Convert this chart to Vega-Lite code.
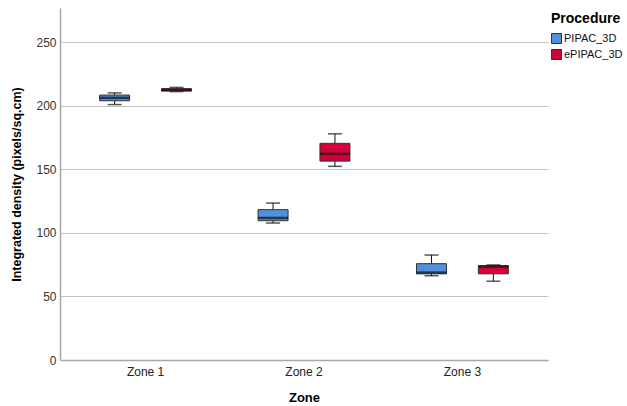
{
  "$schema": "https://vega.github.io/schema/vega-lite/v6.json",
  "autosize": "none",
  "width": 488,
  "height": 352,
  "padding": {"left": 60, "top": 8, "right": 79, "bottom": 46},
  "background": "white",
  "config": {
    "font": "Liberation Sans",
    "view": {"stroke": null}
  },
  "data": {
    "values": [
      {"zone": "Zone 1", "proc": "PIPAC_3D", "min": 201, "q1": 204, "median": 206.3, "q3": 208.5, "max": 210.2},
      {"zone": "Zone 1", "proc": "ePIPAC_3D", "min": 211.2, "q1": 211.6, "median": 212.6, "q3": 213.5, "max": 214.5},
      {"zone": "Zone 2", "proc": "PIPAC_3D", "min": 107.8, "q1": 109.6, "median": 111.8, "q3": 118.3, "max": 123.5},
      {"zone": "Zone 2", "proc": "ePIPAC_3D", "min": 152.4, "q1": 156.5, "median": 162.2, "q3": 170.5, "max": 178},
      {"zone": "Zone 3", "proc": "PIPAC_3D", "min": 66.3, "q1": 67.8, "median": 68.8, "q3": 75.8, "max": 82.6},
      {"zone": "Zone 3", "proc": "ePIPAC_3D", "min": 62, "q1": 67.8, "median": 73.6, "q3": 74.2, "max": 74.8}
    ]
  },
  "encoding": {
    "x": {
      "field": "zone", "type": "nominal",
      "scale": {"paddingInner": 0, "paddingOuter": 0.04},
      "axis": {
        "title": "Zone", "titleFont": "Liberation Sans", "titleFontSize": 13, "titleFontWeight": "bold", "titleColor": "#000", "titlePadding": 14,
        "labelAngle": 0, "labelFontSize": 12, "labelColor": "#222", "labelPadding": 6,
        "ticks": false, "domainColor": "#a8a8a8", "domainWidth": 1.5, "grid": false
      }
    },
    "xOffset": {
      "field": "proc", "type": "nominal",
      "sort": ["PIPAC_3D", "ePIPAC_3D"],
      "scale": {"domain": ["PIPAC_3D", "ePIPAC_3D"], "paddingInner": 0, "paddingOuter": 0.28}
    }
  },
  "layer": [
    {
      "mark": {"type": "rule", "color": "#111", "strokeWidth": 1},
      "encoding": {
        "y": {
          "field": "min", "type": "quantitative",
          "scale": {"domain": [0, 277], "nice": false, "zero": true},
          "axis": {
            "title": "Integrated density (pixels/sq.cm)", "titleFontSize": 12.5, "titleFontWeight": "bold", "titleColor": "#000", "titlePadding": 12,
            "values": [0, 50, 100, 150, 200, 250],
            "labelFontSize": 12, "labelColor": "#333", "labelPadding": 4,
            "ticks": false, "domainColor": "#a8a8a8", "domainWidth": 1.5,
            "grid": true, "gridColor": "#c4c4c4", "gridWidth": 1
          }
        },
        "y2": {"field": "max"}
      }
    },
    {
      "mark": {"type": "tick", "color": "#111", "thickness": 1.5, "size": 14, "orient": "horizontal"},
      "encoding": {"y": {"field": "min", "type": "quantitative"}}
    },
    {
      "mark": {"type": "tick", "color": "#111", "thickness": 1.5, "size": 14, "orient": "horizontal"},
      "encoding": {"y": {"field": "max", "type": "quantitative"}}
    },
    {
      "mark": {"type": "bar", "width": 30, "stroke": "#333", "strokeWidth": 1},
      "encoding": {
        "y": {"field": "q1", "type": "quantitative"},
        "y2": {"field": "q3"},
        "fill": {
          "field": "proc", "type": "nominal",
          "scale": {"domain": ["PIPAC_3D", "ePIPAC_3D"], "range": ["#4f91df", "#d4003a"]},
          "legend": {
            "title": "Procedure", "titleFontSize": 14, "titleFontWeight": "bold", "titleColor": "#000", "titlePadding": 7,
            "orient": "none", "legendX": 491, "legendY": 4,
            "symbolType": "square", "symbolSize": 100, "symbolStrokeColor": "#333", "symbolStrokeWidth": 1,
            "labelFontSize": 11, "labelColor": "#111", "labelOffset": 2, "labelLimit": 200, "rowPadding": 1
          }
        }
      }
    },
    {
      "mark": {"type": "tick", "color": "#111", "thickness": 2.5, "size": 30, "orient": "horizontal"},
      "encoding": {"y": {"field": "median", "type": "quantitative"}}
    }
  ]
}
